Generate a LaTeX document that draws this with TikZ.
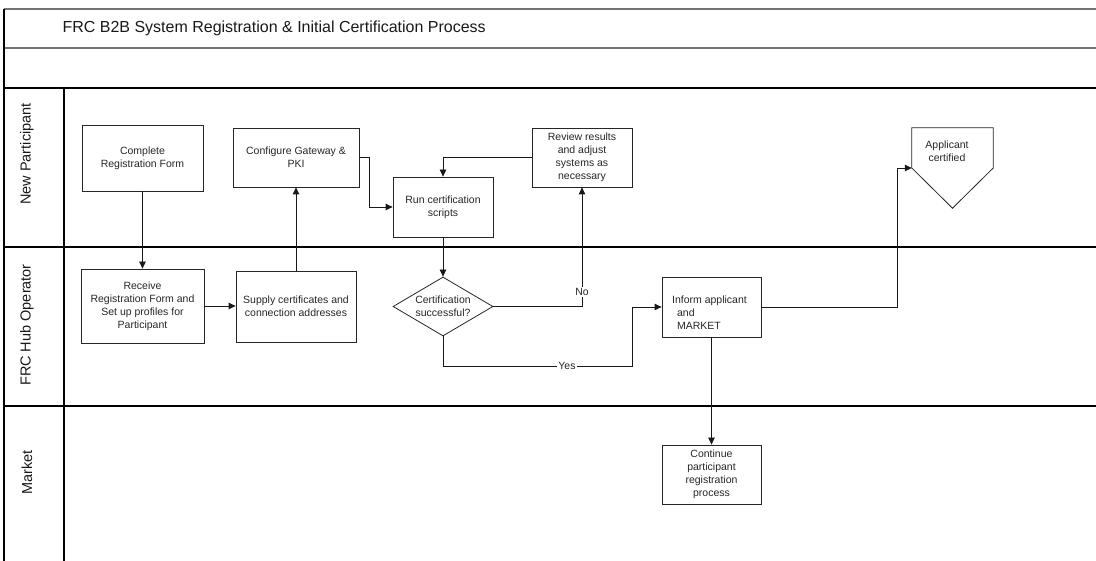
\documentclass[tikz,border=0pt]{standalone}
\usepackage{fontspec}
\setmainfont{Liberation Sans}
\usetikzlibrary{arrows.meta,shapes.geometric}
\begin{document}
\begin{tikzpicture}[x=1pt,y=-1pt,
  boxtxt/.style={font=\fontsize{10.5}{13}\selectfont, text=black!85},
  box/.style={boxtxt, draw=black!85, line width=0.8pt, rectangle, align=center, inner sep=0pt},
  shapeline/.style={draw=black!85, line width=0.8pt},
  laneline/.style={draw=black, line width=1.1pt},
  titleline/.style={draw=black!55, line width=1.2pt},
  conn/.style={draw=black!90, line width=0.8pt, -{Triangle[length=7pt,width=6.5pt]}},
  lbl/.style={boxtxt, fill=white, inner sep=1.5pt},
  lanelabel/.style={rotate=90, font=\fontsize{14.5}{17}\selectfont, text=black!90}]
\useasboundingbox (0,0) rectangle (1096,561);

% frame and swimlanes
\draw[titleline] (4,9) -- (1096,9);
\draw[titleline] (4,48) -- (1096,48);
\draw[laneline] (4,88) -- (1096,88);
\draw[laneline] (4,247) -- (1096,247);
\draw[laneline] (4,406) -- (1096,406);
\draw[laneline] (4,9) -- (4,561);
\draw[laneline] (64,88) -- (64,561);

\node[anchor=west, font=\fontsize{16}{19}\selectfont, text=black!90] (title) at (59,28.5)
  {FRC B2B System Registration \& Initial Certification Process};

\node[lanelabel] (lnp) at (27,154) {New Participant};
\node[lanelabel] (lhub) at (27,325) {FRC Hub Operator};
\node[lanelabel] (lmkt) at (27,472.5) {Market};

% process boxes
\node[box, minimum width=121pt, minimum height=66pt] (complete) at (142.5,158) {Complete\\Registration Form};
\node[box, minimum width=126pt, minimum height=59pt] (config) at (296,157.5) {Configure Gateway \&\\PKI};
\node[box, minimum width=100pt, minimum height=60pt] (run) at (443,207) {Run certification\\scripts};
\node[box, minimum width=100pt, minimum height=59pt] (review) at (582,157.5) {Review results\\and adjust\\systems as\\necessary};
\node[box, minimum width=123pt, minimum height=74pt] (receive) at (142.5,306) {Receive\\Registration Form and\\Set up profiles for\\Participant};
\node[box, minimum width=120pt, minimum height=71pt] (supply) at (296,306.5) {Supply certificates and\\connection addresses};
\node[diamond, shapeline, minimum width=100pt, minimum height=59pt, inner sep=0pt] (dia) at (443,306.5) {};
\node[boxtxt, align=center] (diatext) at (dia.center) {Certification\\successful?};
\node[box, minimum width=99pt, minimum height=60pt] (inform) at (711.5,307) {};
\node[boxtxt, align=left] (inftext) at (709.5,312.5) {Inform applicant\\\hspace*{5pt}and\\\hspace*{5pt}MARKET};
\node[box, minimum width=99pt, minimum height=59pt] (continue) at (711.5,474.5) {Continue\\participant\\registration\\process};

% off-page connector
\node[minimum width=81pt, minimum height=80pt, inner sep=0pt] (ac) at (952.5,168) {};
\draw[shapeline] (ac.north west) -- (ac.north east) -- (ac.east) -- (ac.south) -- (ac.west) -- cycle;
\node[boxtxt, align=center] (actext) at (947,151.5) {Applicant\\certified};

% connectors
\draw[conn] (complete) -- (receive);
\draw[conn] (receive.east) -- (supply.west |- receive.east);
\draw[conn] (supply) -- (config);
\draw[conn] (config.east) -- ++(10,0) |- (run.west);
\draw[conn] (review.west) -| (run.north);
\draw[conn] (run) -- (dia);
\draw[conn] (dia.east) -| (review.south);
\node[lbl] (nolbl) at (582,292) {No};
\coordinate (yesc) at (632,366);
\draw[conn] (dia.south) |- (yesc) |- (inform.west);
\node[lbl] (yeslbl) at (567,366) {Yes};
\draw[conn] (inform) -- (continue);
\coordinate (acc) at (897,307);
\draw[conn] (inform.east) -- (acc) |- (ac.west);
\end{tikzpicture}
\end{document}
